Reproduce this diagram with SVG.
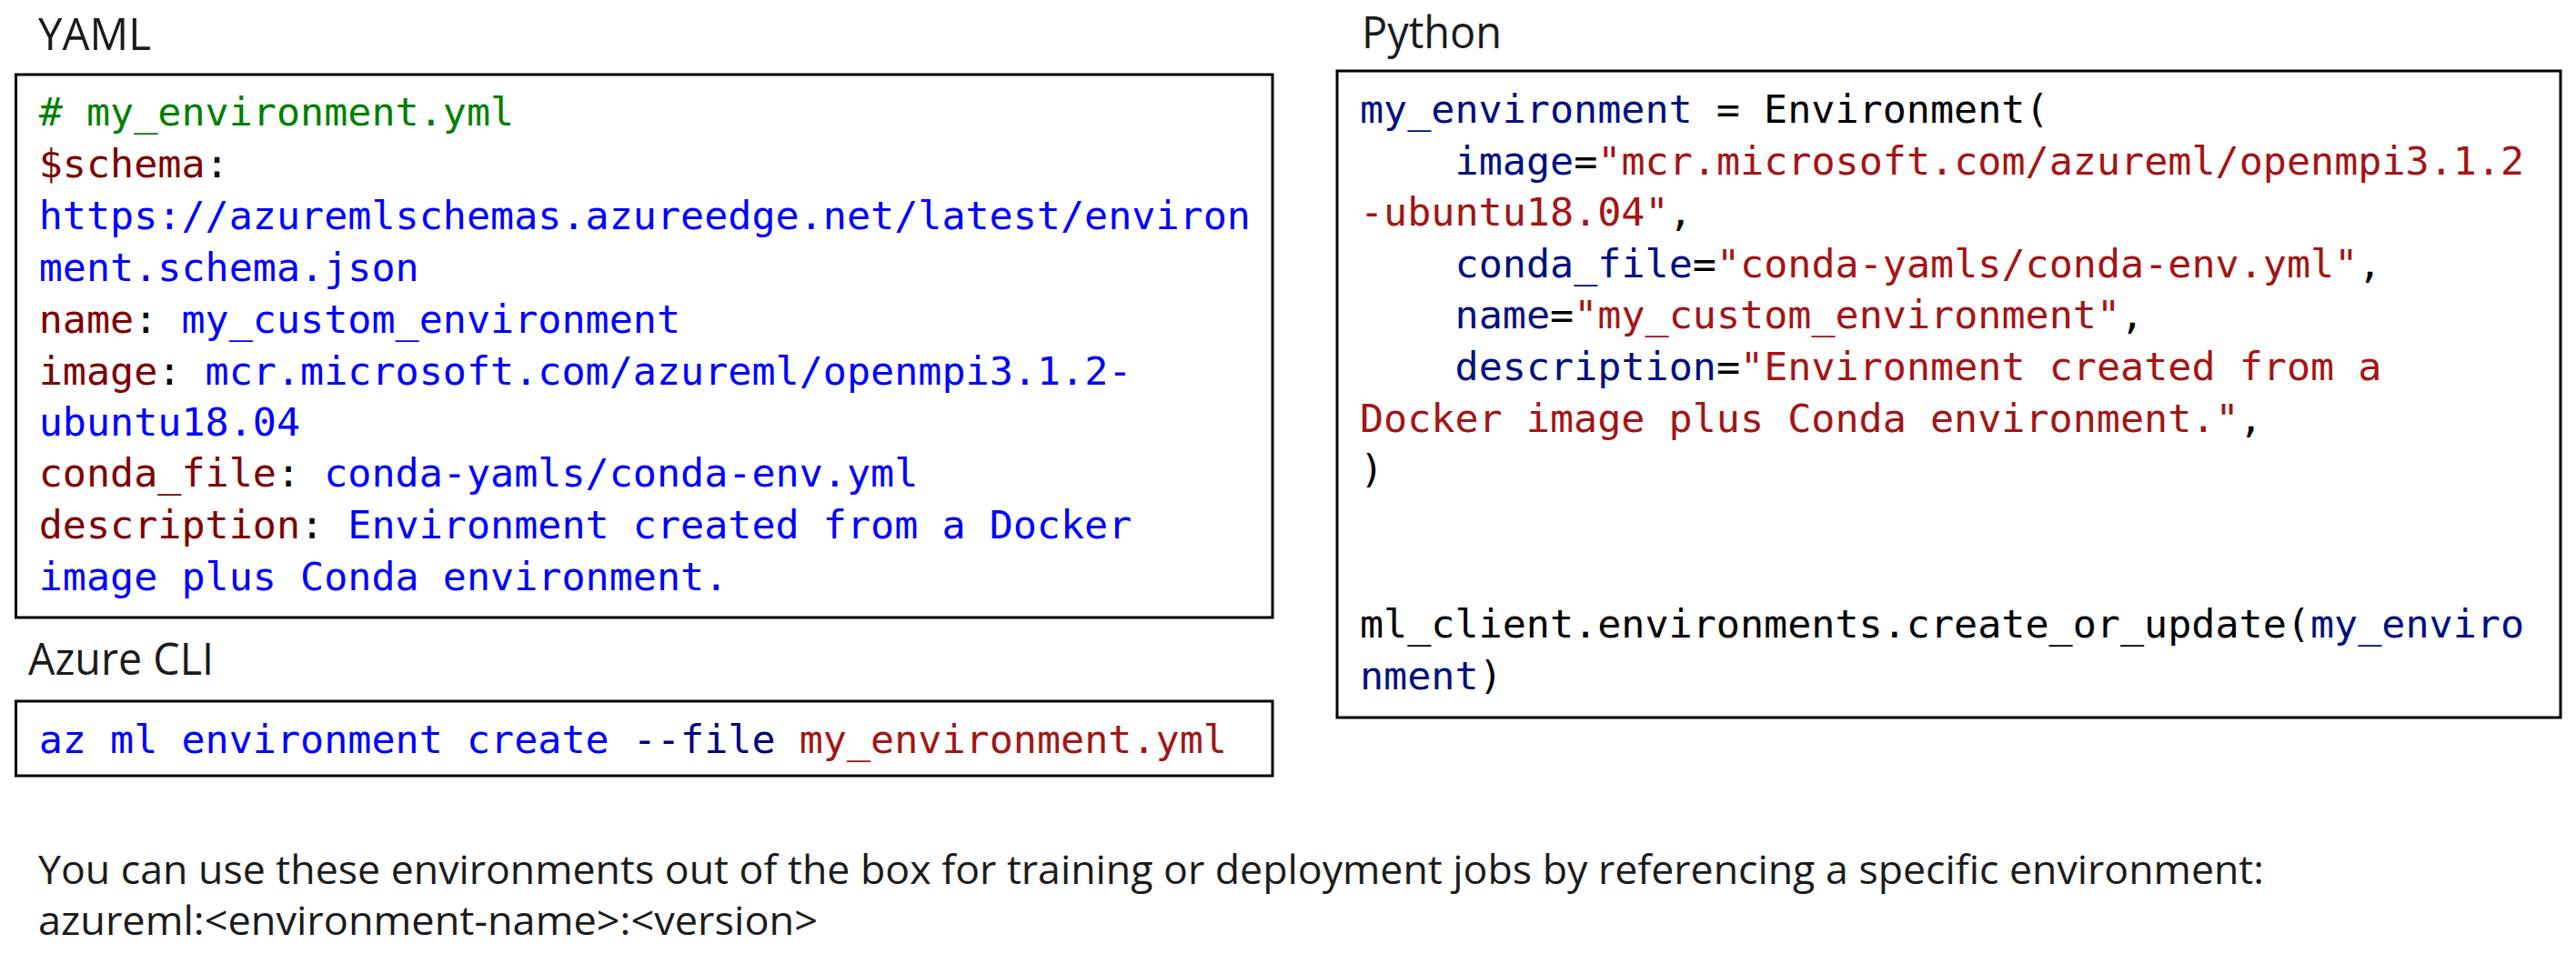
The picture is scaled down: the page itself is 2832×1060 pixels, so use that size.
<svg xmlns="http://www.w3.org/2000/svg" width="2832" height="1060" viewBox="0 0 2832 1060">
<style>
  .box { fill: #ffffff; stroke: #000000; stroke-width: 3; }
  .label { font-family: "Open Sans", "Noto Sans", "Liberation Sans", sans-serif; font-size: 49px; fill: #1b1b1b; }
  .note { font-family: "Open Sans", "Noto Sans", "Liberation Sans", sans-serif; font-size: 44px; fill: #1b1b1b; }
  .code { font-family: "DejaVu Sans Mono", "Liberation Mono", monospace; font-size: 43.4px; fill: #000000; white-space: pre; }
  .cm { fill: #008000; }
  .key { fill: #800000; }
  .val { fill: #0000ff; }
  .var { fill: #001080; }
  .str { fill: #a31515; }
  .opt { fill: #000080; }
</style>
<rect width="2832" height="1060" fill="#ffffff"/>

<g id="yaml">
  <text class="label" x="42" y="55" textLength="124" lengthAdjust="spacingAndGlyphs">YAML</text>
  <rect class="box" x="17.5" y="82" width="1381.5" height="597"/>
  <text class="code" x="42.7" y="138"><tspan class="cm"># my_environment.yml</tspan></text>
  <text class="code" x="42.7" y="195"><tspan class="key">$schema</tspan>:</text>
  <text class="code" x="42.7" y="252"><tspan class="val">https://azuremlschemas.azureedge.net/latest/environ</tspan></text>
  <text class="code" x="42.7" y="309"><tspan class="val">ment.schema.json</tspan></text>
  <text class="code" x="42.7" y="366"><tspan class="key">name</tspan>: <tspan class="val">my_custom_environment</tspan></text>
  <text class="code" x="42.7" y="423"><tspan class="key">image</tspan>: <tspan class="val">mcr.microsoft.com/azureml/openmpi3.1.2-</tspan></text>
  <text class="code" x="42.7" y="479"><tspan class="val">ubuntu18.04</tspan></text>
  <text class="code" x="42.7" y="535"><tspan class="key">conda_file</tspan>: <tspan class="val">conda-yamls/conda-env.yml</tspan></text>
  <text class="code" x="42.7" y="592"><tspan class="key">description</tspan>: <tspan class="val">Environment created from a Docker</tspan></text>
  <text class="code" x="42.7" y="649"><tspan class="val">image plus Conda environment.</tspan></text>
</g>

<g id="python">
  <text class="label" x="1497" y="53" textLength="154" lengthAdjust="spacingAndGlyphs">Python</text>
  <rect class="box" x="1470" y="78" width="1345" height="711"/>
  <text class="code" x="1495" y="135"><tspan class="var">my_environment</tspan> = Environment(</text>
  <text class="code" x="1599.6" y="191.6"><tspan class="var">image</tspan>=<tspan class="str">"mcr.microsoft.com/azureml/openmpi3.1.2</tspan></text>
  <text class="code" x="1495" y="248.2"><tspan class="str">-ubuntu18.04"</tspan>,</text>
  <text class="code" x="1599.6" y="304.8"><tspan class="var">conda_file</tspan>=<tspan class="str">"conda-yamls/conda-env.yml"</tspan>,</text>
  <text class="code" x="1599.6" y="361.4"><tspan class="var">name</tspan>=<tspan class="str">"my_custom_environment"</tspan>,</text>
  <text class="code" x="1599.6" y="418"><tspan class="var">description</tspan>=<tspan class="str">"Environment created from a</tspan></text>
  <text class="code" x="1495" y="474.6"><tspan class="str">Docker image plus Conda environment."</tspan>,</text>
  <text class="code" x="1495" y="531.2">)</text>
  <text class="code" x="1495" y="701.2">ml_client.environments.create_or_update(<tspan class="var">my_enviro</tspan></text>
  <text class="code" x="1495" y="757.8"><tspan class="var">nment</tspan>)</text>
</g>

<g id="cli">
  <text class="label" x="31" y="742" textLength="204" lengthAdjust="spacingAndGlyphs">Azure CLI</text>
  <rect class="box" x="17.5" y="771" width="1381.5" height="82"/>
  <text class="code" x="42.7" y="828"><tspan class="val">az ml environment create</tspan> <tspan class="opt">--file</tspan> <tspan class="str">my_environment.yml</tspan></text>
</g>

<g id="footer">
  <text class="note" x="42" y="972" textLength="2447" lengthAdjust="spacingAndGlyphs">You can use these environments out of the box for training or deployment jobs by referencing a specific environment:</text>
  <text class="note" x="42" y="1028" textLength="857" lengthAdjust="spacingAndGlyphs">azureml:&lt;environment-name&gt;:&lt;version&gt;</text>
</g>

<g id="connectors"/>
</svg>
